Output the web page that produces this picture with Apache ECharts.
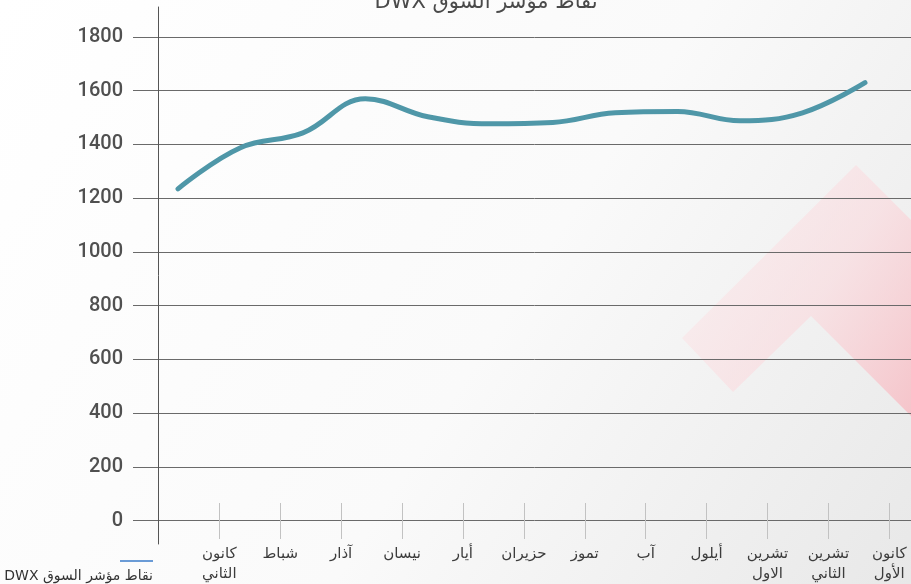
<!DOCTYPE html>
<html>
<head>
<meta charset="utf-8">
<script src="https://cdn.jsdelivr.net/npm/echarts@6.0.0/dist/echarts.min.js"></script>
<style>
  html, body { margin: 0; padding: 0; background: #fff; }
  #chart { width: 911px; height: 584px; }
</style>
</head>
<body>
<div id="chart" dir="rtl"></div>
<script>
// ---- data ----
const MONTHS = [
  'كانون\nالثاني', 'شباط', 'آذار', 'نيسان', 'أيار', 'حزيران',
  'تموز', 'آب', 'أيلول', 'تشرين\nالاول', 'تشرين\nالثاني', 'كانون\nالأول'
];
const SERIES_NAME = 'نقاط مؤشر السوق DWX';
const DWX_VALUES = [1235, 1388, 1443, 1570, 1503, 1477, 1482, 1518, 1523, 1488, 1518, 1630];
const Y_MIN = 0;
const Y_MAX = 1800;
const Y_STEP = 200;

// ---- style ----
const LINE_COLOR = '#4f97a8';
const LEGEND_COLOR = '#6a9bd6';
const GRID_LINE = '#6a6a6a';
const TICK_LIGHT = '#c2c2c2';
const TEXT_DARK = '#3c3c3c';
const AR_FONT = '"DejaVu Sans", "Noto Sans", sans-serif';

const chart = echarts.init(document.getElementById('chart'), null, { renderer: 'canvas' });

const bg = {
  type: 'rect',
  z: -20,
  silent: true,
  shape: { x: 0, y: 0, width: 911, height: 584 },
  style: {
    fill: new echarts.graphic.LinearGradient(0, 0, 1, 1, [
      { offset: 0, color: '#ffffff' },
      { offset: 0.55, color: '#fafafa' },
      { offset: 1, color: '#e8e8e8' }
    ])
  }
};

// pink chevron decoration, bottom right
const chevron = {
  type: 'polygon',
  z: -10,
  silent: true,
  shape: {
    points: [[682, 338], [856, 165], [1000, 309], [1000, 505], [811, 316], [733, 392]]
  },
  style: {
    fill: new echarts.graphic.LinearGradient(0, 0, 1, 0.6, [
      { offset: 0, color: 'rgba(252,234,236,0.45)' },
      { offset: 0.5, color: 'rgba(250,218,222,0.65)' },
      { offset: 1, color: 'rgba(246,178,186,0.9)' }
    ])
  }
};

const option = {
  animation: false,
  graphic: [bg, chevron],
  title: {
    text: SERIES_NAME,
    left: 481,
    top: -13,
    textAlign: 'center',
    textStyle: { fontFamily: AR_FONT, fontSize: 21, fontWeight: 'normal', color: '#4a4a4a' }
  },
  legend: [
    {
      selectedMode: false,
      left: 115,
      top: 555,
      itemWidth: 33,
      itemHeight: 2,
      data: [{ name: SERIES_NAME, icon: 'rect' }],
      itemStyle: { color: LEGEND_COLOR },
      formatter: () => '',
      textStyle: { fontSize: 12 }
    },
    {
      selectedMode: false,
      right: 747,
      top: 564,
      align: 'right',
      itemWidth: 0,
      itemHeight: 0,
      data: [{ name: SERIES_NAME }],
      textStyle: { fontFamily: AR_FONT, fontSize: 14, color: '#333' }
    }
  ],
  grid: [
    // gridlines + value labels
    { left: 158, right: 0, top: 37, bottom: 63.3 },
    // month ticks and labels
    { left: 219.3, right: 21.7, top: 37, bottom: 41 },
    // the index line
    { left: 178, right: 46, top: 37, bottom: 63.3 },
    // long vertical axis line
    { left: 158, width: 10, top: 7, bottom: 40 }
  ],
  xAxis: [
    { gridIndex: 0, type: 'category', data: MONTHS, show: false },
    {
      gridIndex: 1,
      type: 'category',
      data: MONTHS,
      boundaryGap: false,
      axisLine: { show: false },
      axisTick: { show: true, inside: true, length: 36, interval: 0, lineStyle: { color: TICK_LIGHT } },
      axisLabel: {
        interval: 0,
        margin: 5,
        fontFamily: AR_FONT,
        fontSize: 15,
        lineHeight: 20,
        color: TEXT_DARK
      },
      splitLine: { show: false }
    },
    { gridIndex: 2, type: 'category', data: MONTHS, boundaryGap: false, show: false },
    { gridIndex: 3, type: 'value', show: false }
  ],
  yAxis: [
    {
      gridIndex: 0,
      type: 'value',
      min: Y_MIN,
      max: Y_MAX,
      interval: Y_STEP,
      axisLine: { show: false },
      axisTick: { show: true, length: 25, lineStyle: { color: GRID_LINE } },
      axisLabel: {
        margin: 35,
        fontFamily: 'Roboto',
        fontSize: 20,
        fontWeight: 500,
        color: '#505050',
        formatter: v => String(v)
      },
      splitLine: { lineStyle: { color: GRID_LINE, width: 1 } }
    },
    { gridIndex: 1, type: 'value', show: false },
    { gridIndex: 2, type: 'value', min: Y_MIN, max: Y_MAX, show: false },
    {
      gridIndex: 3,
      type: 'value',
      axisLine: { show: true, lineStyle: { color: '#555' } },
      axisTick: { show: false },
      axisLabel: { show: false },
      splitLine: { show: false }
    }
  ],
  series: [
    {
      name: SERIES_NAME,
      type: 'line',
      xAxisIndex: 2,
      yAxisIndex: 2,
      data: DWX_VALUES,
      smooth: 0.4,
      symbol: 'none',
      lineStyle: { color: LINE_COLOR, width: 5, cap: 'round', join: 'round' },
      itemStyle: { color: LINE_COLOR },
      z: 5
    }
  ]
};

chart.setOption(option);
</script>
</body>
</html>
